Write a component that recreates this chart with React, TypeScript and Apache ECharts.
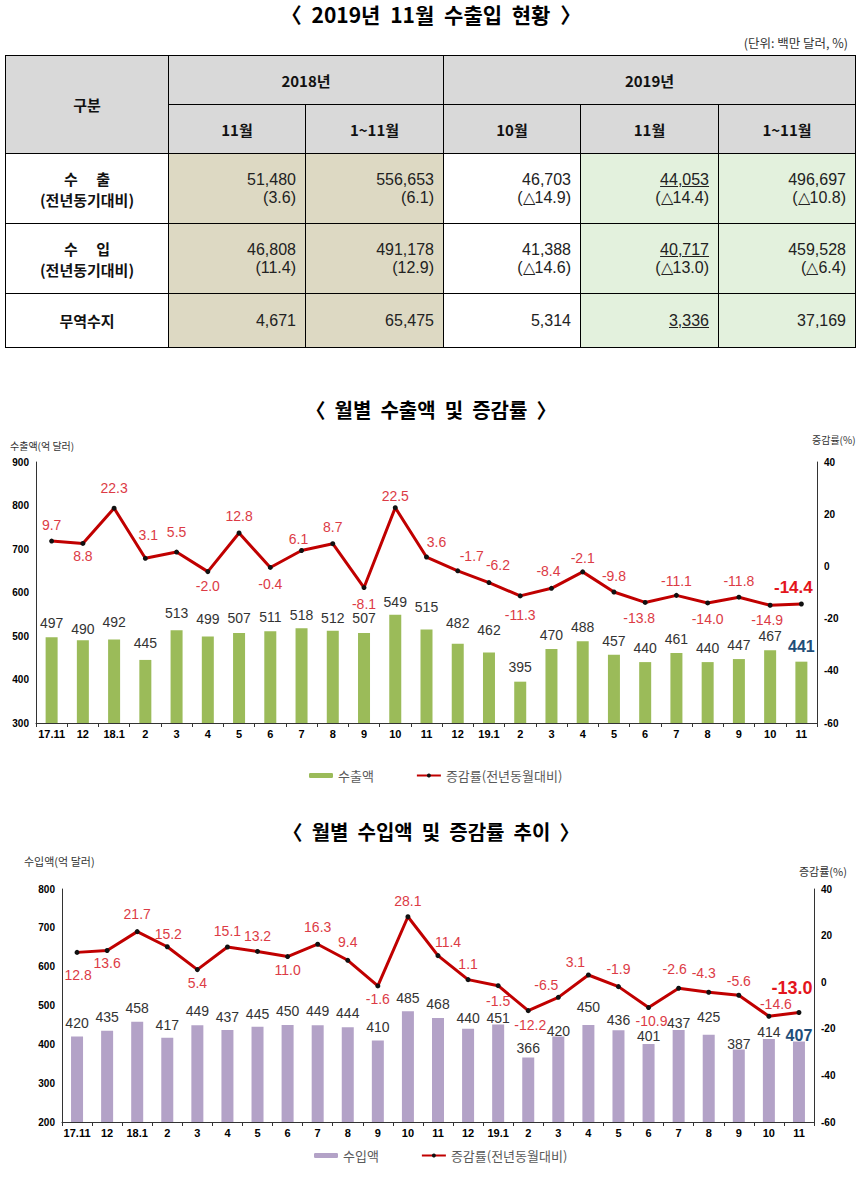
import React, { useEffect, useRef } from "react";
import * as echarts from "echarts";

// ---------- data ----------
const months = ["17.11", "12", "18.1", "2", "3", "4", "5", "6", "7", "8", "9", "10", "11", "12", "19.1", "2", "3", "4", "5", "6", "7", "8", "9", "10", "11"];
const exportAmount = [497, 490, 492, 445, 513, 499, 507, 511, 518, 512, 507, 549, 515, 482, 462, 395, 470, 488, 457, 440, 461, 440, 447, 467, 441];
const exportRate = [9.7, 8.8, 22.3, 3.1, 5.5, -2.0, 12.8, -0.4, 6.1, 8.7, -8.1, 22.5, 3.6, -1.7, -6.2, -11.3, -8.4, -2.1, -9.8, -13.8, -11.1, -14.0, -11.8, -14.9, -14.4];
const importAmount = [420, 435, 458, 417, 449, 437, 445, 450, 449, 444, 410, 485, 468, 440, 451, 366, 420, 450, 436, 401, 437, 425, 387, 414, 407];
const importRate = [12.8, 13.6, 21.7, 15.2, 5.4, 15.1, 13.2, 11.0, 16.3, 9.4, -1.6, 28.1, 11.4, 1.1, -1.5, -12.2, -6.5, 3.1, -1.9, -10.9, -2.6, -4.3, -5.6, -14.6, -13.0];

const tableYears = ["2018년", "2019년"];
const tableCols = ["11월", "1~11월", "10월", "11월", "1~11월"];
const tableExport = ["51,480", "556,653", "46,703", "44,053", "496,697"];
const tableExportRate = ["(3.6)", "(6.1)", "(△14.9)", "(△14.4)", "(△10.8)"];
const tableImport = ["46,808", "491,178", "41,388", "40,717", "459,528"];
const tableImportRate = ["(11.4)", "(12.9)", "(△14.6)", "(△13.0)", "(△6.4)"];
const tableBalance = ["4,671", "65,475", "5,314", "3,336", "37,169"];

// ---------- label placement (styling) ----------
const exportRatePos = ["top", "bottom", "top", "top", "top", "bottom", "top", "bottom", "top", "top", "bottom", "top", "top", "top", "top", "bottom", "top", "top", "top", "bottom", "top", "bottom", "top", "bottom", "top"];
const exportRateOff = [[0, -2], [0, -2], [0, -6], [3, -9], [0, -6], [0, 0], [0, -2], [0, 2], [-3, 3], [0, -2], [0, 2], [0, 3], [10, -1], [14, 0], [9, -3], [0, 5], [-3, -3], [0, 1], [0, -1], [-6, 1], [0, 0], [0, 2], [0, -2], [-3, 0], [-8, 0]];
const exportBarOff = [0, 3, -3, -3, -3, -3, -1, 0, 1, 1, -1, 1, -8, -7, -9, -1, 0, 0, 0, 0, 0, 0, 0, 0, 0];
const importRatePos = ["bottom", "bottom", "top", "top", "bottom", "top", "top", "bottom", "top", "top", "bottom", "top", "top", "top", "bottom", "bottom", "top", "top", "top", "bottom", "top", "top", "top", "top", "top"];
const importRateOff = [[1, 8], [0, -2], [0, -3], [1, 2], [0, -1], [0, -2], [0, -1], [0, -1], [0, -3], [0, -4], [0, -1], [0, -1], [10, 1], [0, -1], [0, 1], [2, 0], [-12, 2], [-13, 2], [0, -3], [3, -1], [-4, -5], [-5, -5], [0, 0], [7, 2], [-7, -8]];
const importBarOff = [0, 0, 0, 1, 0, 1, 1, 0, 0, 0, 1, 1, 0, 3, 7, 4, 8, -4, 4, 6, 7, -4, 9, 7, 9];

const CJK = "'Noto Sans CJK KR', 'Noto Sans', sans-serif";
const NUM = "'Liberation Sans', Arial, sans-serif";

function makeOption(p: any) {
  const n = p.bars.length;
  const barData = p.bars.map((v: number, i: number) => ({
    value: v,
    label:
      i === n - 1
        ? { offset: [0, p.barOff[i]], color: "#1f4e79", fontSize: 16, fontWeight: "bold" }
        : { offset: [0, p.barOff[i]] },
  }));
  const lineData = p.rates.map((v: number, i: number) => ({
    value: v,
    label: Object.assign(
      { position: p.ratePos[i], offset: p.rateOff[i] },
      i === n - 1 ? { color: "#e3151c", fontSize: p.lastRateSize, fontWeight: "bold" } : {}
    ),
  }));
  return {
    animation: false,
    textStyle: { fontFamily: CJK },
    title: {
      text: p.title,
      left: "center",
      top: p.titleTop,
      textStyle: { fontSize: 20, fontWeight: "bold", color: "#000", fontFamily: CJK, lineHeight: 24 },
    },
    graphic: [
      { type: "text", left: p.leftNameX, top: p.leftNameY, style: { text: p.leftName, fill: "#333", font: `${p.nameSize}px ${CJK}` } },
      { type: "text", left: p.rightNameX, top: p.rightNameY, style: { text: "증감률(%)", fill: "#333", font: `${p.nameSize}px ${CJK}` } },
    ],
    legend: {
      data: [p.barName, "증감률(전년동월대비)"],
      left: p.legendLeft,
      top: p.legendTop,
      itemWidth: 24,
      itemHeight: 5,
      itemGap: 42,
      textStyle: { fontSize: 13, color: "#595959", fontFamily: CJK },
    },
    grid: p.grid,
    xAxis: {
      type: "category",
      data: months,
      axisLine: { onZero: false, lineStyle: { color: "#333", width: 1 } },
      axisTick: { show: true, length: 4, lineStyle: { color: "#333" } },
      axisLabel: { interval: 0, margin: 5, fontSize: 11, fontWeight: "bold", color: "#000", fontFamily: NUM },
      splitLine: { show: false },
    },
    yAxis: [
      {
        type: "value",
        min: p.leftMin,
        max: p.leftMax,
        interval: 100,
        axisLine: { show: true, lineStyle: { color: "#333" } },
        axisTick: { show: false },
        splitLine: { show: false },
        axisLabel: { margin: 7, fontSize: 10, fontWeight: "bold", color: "#000", fontFamily: NUM },
      },
      {
        type: "value",
        min: -60,
        max: 40,
        interval: 20,
        position: "right",
        axisLine: { show: true, lineStyle: { color: "#333" } },
        axisTick: { show: false },
        splitLine: { show: false },
        axisLabel: { margin: 7, fontSize: 10, fontWeight: "bold", color: "#000", fontFamily: NUM },
      },
    ],
    series: [
      {
        name: p.barName,
        type: "bar",
        data: barData,
        barWidth: 12,
        itemStyle: { color: p.barColor },
        label: { show: true, position: "top", distance: 7, fontSize: 14, color: "#333", fontFamily: NUM },
        z: 2,
      },
      {
        name: "증감률(전년동월대비)",
        type: "line",
        yAxisIndex: 1,
        data: lineData,
        symbol: "circle",
        symbolSize: 5,
        lineStyle: { color: "#c00000", width: 3 },
        itemStyle: { color: "#111", borderWidth: 0 },
        label: {
          show: true,
          distance: 5,
          fontSize: 14,
          color: "#dc3b45",
          fontFamily: NUM,
          formatter: (q: any) => Number(q.value).toFixed(1),
        },
        z: 3,
      },
    ],
  };
}

function Chart({ option, style }: any) {
  const ref = useRef<HTMLDivElement>(null);
  useEffect(() => {
    const c = echarts.init(ref.current as HTMLDivElement, null, { renderer: "svg" });
    c.setOption(option);
    return () => c.dispose();
  }, []);
  return <div ref={ref} style={style} />;
}

const exportOption = makeOption({
  title: "〈  월별  수출액  및  증감률  〉",
  titleTop: 12,
  leftName: "수출액(억 달러)",
  leftNameX: 10,
  leftNameY: 60,
  rightNameX: 812,
  rightNameY: 54,
  nameSize: 10,
  barName: "수출액",
  barColor: "#9bbb59",
  bars: exportAmount,
  rates: exportRate,
  ratePos: exportRatePos,
  rateOff: exportRateOff,
  barOff: exportBarOff,
  lastRateSize: 17,
  leftMin: 300,
  leftMax: 900,
  grid: { left: 36, right: 45, top: 82, bottom: 67 },
  legendLeft: 304,
  legendTop: 384,
});

const importOption = makeOption({
  title: "〈  월별  수입액  및  증감률  추이  〉",
  titleTop: 14,
  leftName: "수입액(억 달러)",
  leftNameX: 24,
  leftNameY: 55,
  rightNameX: 799,
  rightNameY: 65,
  nameSize: 11,
  barName: "수입액",
  barColor: "#b3a2c7",
  bars: importAmount,
  rates: importRate,
  ratePos: importRatePos,
  rateOff: importRateOff,
  barOff: importBarOff,
  lastRateSize: 18,
  leftMin: 200,
  leftMax: 800,
  grid: { left: 62, right: 48, top: 89, bottom: 57 },
  legendLeft: 309,
  legendTop: 344,
});

const colW = [163, 137, 138, 137, 138, 137];
const cellBg = ["#ddd9c3", "#ddd9c3", "#ffffff", "#e3f1dd", "#e3f1dd"];

function Table() {
  const bd = "1px solid #000";
  const head: React.CSSProperties = {
    border: bd,
    background: "#d9d9d9",
    textAlign: "center",
    verticalAlign: "middle",
    fontWeight: "bold",
    fontSize: 15,
    padding: 0,
    color: "#111",
  };
  const rowHead: React.CSSProperties = {
    border: bd,
    background: "#fff",
    textAlign: "center",
    verticalAlign: "middle",
    fontWeight: "bold",
    fontSize: 15,
    padding: 0,
    color: "#111",
    whiteSpace: "pre",
  };
  const dataCell = (i: number): React.CSSProperties => ({
    border: bd,
    background: cellBg[i],
    textAlign: "right",
    verticalAlign: "middle",
    fontSize: 16,
    fontFamily: NUM,
    padding: "0 9px 0 0",
    color: "#222",
  });
  const line: React.CSSProperties = { height: 18, lineHeight: "18px" };
  const ul = (i: number) => (i === 3 ? { textDecoration: "underline" } : {});
  return (
    <table
      style={{
        position: "absolute",
        left: 5,
        top: 55,
        width: 851,
        borderCollapse: "collapse",
        tableLayout: "fixed",
        fontFamily: CJK,
      }}
    >
      <colgroup>
        {colW.map((w, i) => (
          <col key={i} style={{ width: w }} />
        ))}
      </colgroup>
      <tbody>
        <tr style={{ height: 49 }}>
          <td rowSpan={2} style={head}>구분</td>
          <td colSpan={2} style={head}>{tableYears[0]}</td>
          <td colSpan={3} style={head}>{tableYears[1]}</td>
        </tr>
        <tr style={{ height: 49 }}>
          {tableCols.map((c, i) => (
            <td key={i} style={head}>{c}</td>
          ))}
        </tr>
        <tr style={{ height: 70 }}>
          <td style={rowHead}>
            <div style={{ height: 21, lineHeight: "21px" }}>{"수　 출"}</div>
            <div style={{ height: 21, lineHeight: "21px" }}>(전년동기대비)</div>
          </td>
          {tableExport.map((v, i) => (
            <td key={i} style={dataCell(i)}>
              <div style={line}><span style={ul(i)}>{v}</span></div>
              <div style={line}>{tableExportRate[i]}</div>
            </td>
          ))}
        </tr>
        <tr style={{ height: 70 }}>
          <td style={rowHead}>
            <div style={{ height: 21, lineHeight: "21px" }}>{"수　 입"}</div>
            <div style={{ height: 21, lineHeight: "21px" }}>(전년동기대비)</div>
          </td>
          {tableImport.map((v, i) => (
            <td key={i} style={dataCell(i)}>
              <div style={line}><span style={ul(i)}>{v}</span></div>
              <div style={line}>{tableImportRate[i]}</div>
            </td>
          ))}
        </tr>
        <tr style={{ height: 54 }}>
          <td style={rowHead}>무역수지</td>
          {tableBalance.map((v, i) => (
            <td key={i} style={dataCell(i)}>
              <span style={ul(i)}>{v}</span>
            </td>
          ))}
        </tr>
      </tbody>
    </table>
  );
}

export default function App() {
  return (
    <div style={{ position: "absolute", left: 0, top: 0, width: 862, height: 1179, background: "#fff", fontFamily: CJK }}>
      <div
        style={{
          position: "absolute",
          left: 0,
          top: 1,
          width: 862,
          textAlign: "center",
          fontSize: 21,
          fontWeight: "bold",
          lineHeight: "26px",
          color: "#000",
          wordSpacing: 5,
        }}
      >
        〈 2019년 11월 수출입 현황 〉
      </div>
      <div
        style={{
          position: "absolute",
          right: 14,
          top: 35,
          fontSize: 12.5,
          lineHeight: "16px",
          color: "#333",
        }}
      >
        (단위: 백만 달러, %)
      </div>
      <Table />
      <Chart option={exportOption} style={{ position: "absolute", left: 0, top: 380, width: 862, height: 410 }} />
      <Chart option={importOption} style={{ position: "absolute", left: 0, top: 800, width: 862, height: 379 }} />
    </div>
  );
}
